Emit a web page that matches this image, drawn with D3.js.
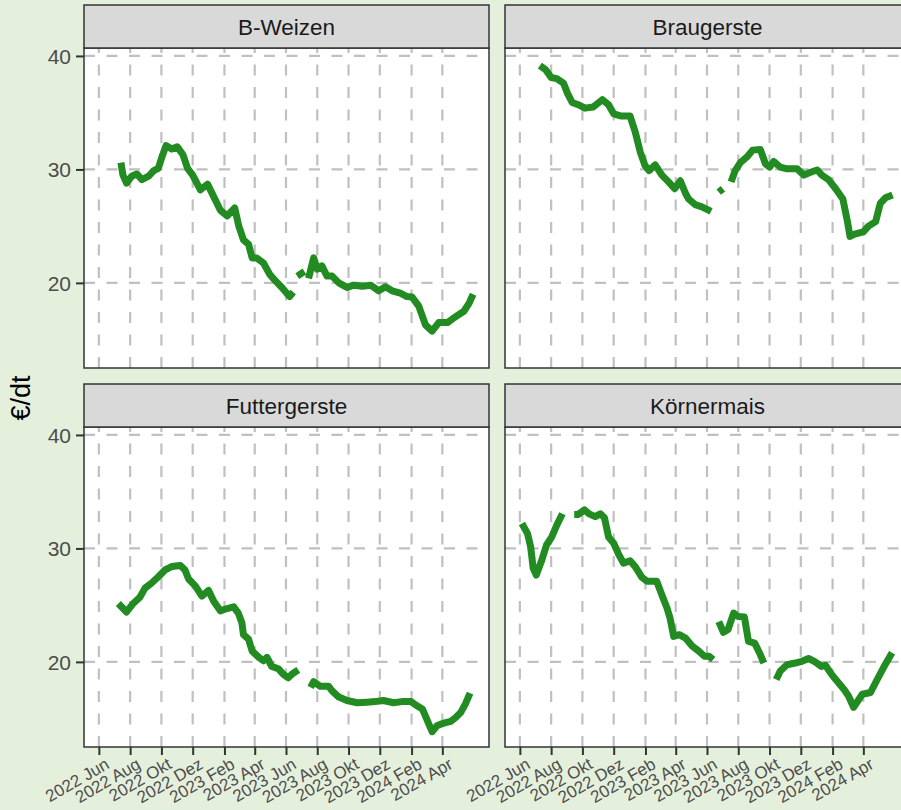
<!DOCTYPE html>
<html><head><meta charset="utf-8">
<script src="https://cdn.jsdelivr.net/npm/d3@7"></script>
<style>body{margin:0;background:#E5F0DC;} svg{display:block;font-family:"Liberation Sans",Arial,sans-serif}</style>
</head><body><svg id="c" width="901" height="810"></svg>
<script>
// ---------- data ----------
const panelNames = ["B-Weizen", "Braugerste", "Futtergerste", "Körnermais"];
const yTicks = [20, 30, 40];
const yDomain = [12.5, 40.7];
const xDomain = ["2022-05-03", "2024-07-01"];
const tickDates = ["2022-06-01","2022-08-01","2022-10-01","2022-12-01","2023-02-01","2023-04-01","2023-06-01","2023-08-01","2023-10-01","2023-12-01","2024-02-01","2024-04-01"];
const tickLabels = ["2022 Jun","2022 Aug","2022 Okt","2022 Dez","2023 Feb","2023 Apr","2023 Jun","2023 Aug","2023 Okt","2023 Dez","2024 Feb","2024 Apr"];

const bWeizen = [["2022-07-14",30.6],["2022-07-18",29.5],["2022-07-25",28.8],["2022-08-04",29.4],["2022-08-14",29.6],["2022-08-24",29.1],["2022-09-06",29.4],["2022-09-16",29.9],["2022-09-25",30.1],["2022-10-02",31.1],["2022-10-10",32.1],["2022-10-21",31.8],["2022-11-01",32.0],["2022-11-12",31.3],["2022-11-21",30.1],["2022-12-01",29.5],["2022-12-16",28.2],["2022-12-30",28.7],["2023-01-11",27.6],["2023-01-24",26.4],["2023-02-06",25.9],["2023-02-21",26.6],["2023-03-01",25.0],["2023-03-10",23.8],["2023-03-20",23.4],["2023-03-27",22.2],["2023-04-05",22.2],["2023-04-18",21.75],["2023-05-01",20.7],["2023-05-11",20.2],["2023-05-24",19.6],["2023-06-08",18.8],["2023-06-15",19.2],null,["2023-06-23",20.6],["2023-07-07",21.0],null,["2023-07-15",20.4],["2023-07-25",22.2],["2023-08-01",21.2],["2023-08-10",21.5],["2023-08-20",20.6],["2023-08-30",20.6],["2023-09-12",20.0],["2023-09-28",19.6],["2023-10-11",19.8],["2023-10-28",19.7],["2023-11-13",19.8],["2023-11-29",19.3],["2023-12-12",19.65],["2023-12-25",19.3],["2024-01-10",19.1],["2024-01-23",18.8],["2024-02-02",18.75],["2024-02-15",17.95],["2024-02-28",16.3],["2024-03-12",15.75],["2024-03-25",16.5],["2024-04-11",16.5],["2024-04-20",16.8],["2024-05-03",17.2],["2024-05-13",17.5],["2024-05-23",18.2],["2024-05-31",19.0]];

const braugerste = [["2022-07-10",39.15],["2022-07-21",38.8],["2022-08-01",38.1],["2022-08-12",38.0],["2022-08-25",37.6],["2022-09-02",36.7],["2022-09-11",35.9],["2022-09-23",35.7],["2022-10-06",35.4],["2022-10-22",35.5],["2022-11-09",36.15],["2022-11-21",35.7],["2022-12-01",34.9],["2022-12-16",34.7],["2023-01-02",34.7],["2023-01-12",33.3],["2023-01-22",31.5],["2023-01-31",30.35],["2023-02-08",29.9],["2023-02-20",30.4],["2023-03-05",29.5],["2023-03-18",28.9],["2023-03-30",28.3],["2023-04-10",29.0],["2023-04-20",27.9],["2023-04-26",27.4],["2023-05-09",26.9],["2023-05-22",26.7],["2023-06-09",26.3],null,["2023-06-24",28.0],["2023-07-02",28.3],null,["2023-07-18",28.9],["2023-07-26",29.9],["2023-08-05",30.6],["2023-08-18",31.1],["2023-08-29",31.7],["2023-09-13",31.75],["2023-09-23",30.5],["2023-10-01",30.2],["2023-10-09",30.7],["2023-10-22",30.2],["2023-11-04",30.05],["2023-11-24",30.05],["2023-12-07",29.5],["2023-12-20",29.75],["2024-01-02",29.95],["2024-01-11",29.5],["2024-01-24",29.1],["2024-02-07",28.3],["2024-02-21",27.4],["2024-03-01",25.4],["2024-03-06",24.1],["2024-03-15",24.3],["2024-04-01",24.5],["2024-04-11",25.0],["2024-04-25",25.4],["2024-05-04",27.0],["2024-05-14",27.5],["2024-05-28",27.75]];

const futtergerste = [["2022-07-09",25.15],["2022-07-25",24.4],["2022-08-07",25.15],["2022-08-20",25.7],["2022-08-30",26.5],["2022-09-12",26.95],["2022-09-25",27.5],["2022-10-08",28.1],["2022-10-21",28.4],["2022-11-07",28.5],["2022-11-16",28.1],["2022-11-23",27.3],["2022-12-06",26.7],["2022-12-19",25.8],["2023-01-01",26.3],["2023-01-11",25.35],["2023-01-24",24.5],["2023-02-06",24.7],["2023-02-19",24.85],["2023-02-28",24.3],["2023-03-07",23.45],["2023-03-10",22.4],["2023-03-20",22.0],["2023-03-27",20.95],["2023-04-09",20.4],["2023-04-18",20.1],["2023-04-25",20.4],["2023-05-04",19.6],["2023-05-17",19.4],["2023-05-27",18.9],["2023-06-05",18.6],["2023-06-15",19.0],["2023-06-25",19.3],null,["2023-07-19",17.75],["2023-07-25",18.25],["2023-08-07",17.85],["2023-08-23",17.85],["2023-08-30",17.45],["2023-09-12",16.9],["2023-09-28",16.6],["2023-10-18",16.4],["2023-11-06",16.45],["2023-11-22",16.5],["2023-12-08",16.6],["2023-12-28",16.4],["2024-01-13",16.5],["2024-01-31",16.5],["2024-02-09",16.2],["2024-02-22",15.85],["2024-03-03",14.8],["2024-03-12",13.85],["2024-03-22",14.4],["2024-04-04",14.6],["2024-04-17",14.75],["2024-04-27",15.1],["2024-05-07",15.55],["2024-05-16",16.3],["2024-05-25",17.25]];

const koernermais = [["2022-06-05",32.2],["2022-06-16",31.3],["2022-06-22",30.15],["2022-06-27",28.25],["2022-07-03",27.65],["2022-07-14",29.0],["2022-07-23",30.3],["2022-08-02",31.0],["2022-08-12",32.05],["2022-08-23",33.05],null,["2022-09-15",33.0],["2022-09-23",33.0],["2022-10-05",33.4],["2022-10-14",33.05],["2022-10-26",32.8],["2022-11-05",33.05],["2022-11-13",32.7],["2022-11-21",31.0],["2022-12-01",30.45],["2022-12-10",29.55],["2022-12-20",28.7],["2023-01-02",28.9],["2023-01-12",28.4],["2023-01-25",27.45],["2023-02-04",27.1],["2023-02-23",27.1],["2023-03-05",25.9],["2023-03-15",24.75],["2023-03-21",23.85],["2023-03-28",22.25],["2023-04-08",22.4],["2023-04-20",22.1],["2023-05-03",21.4],["2023-05-16",20.95],["2023-05-27",20.5],["2023-06-05",20.5],["2023-06-13",20.2],null,["2023-06-24",23.55],["2023-07-03",22.6],["2023-07-12",22.85],["2023-07-23",24.3],["2023-08-01",24.0],["2023-08-13",23.95],["2023-08-21",21.8],["2023-09-02",21.65],["2023-09-13",20.65],["2023-09-20",19.9],null,["2023-10-14",18.45],["2023-10-22",19.2],["2023-11-04",19.75],["2023-11-20",19.9],["2023-12-03",20.05],["2023-12-16",20.3],["2023-12-29",20.0],["2024-01-10",19.6],["2024-01-18",19.7],["2024-01-30",18.9],["2024-02-10",18.3],["2024-02-23",17.6],["2024-03-03",17.0],["2024-03-13",16.0],["2024-03-30",17.15],["2024-04-15",17.3],["2024-04-28",18.45],["2024-05-14",19.8],["2024-05-27",20.8]];

const seriesList = [bWeizen, braugerste, futtergerste, koernermais];

// ---------- drawing ----------
const W = 901, H = 810;
const svg = d3.select('#c');
svg.append('rect').attr('width', W).attr('height', H).attr('fill', '#E5F0DC');

const pw = 405, ph = 320, sh = 43;
const cols = [84, 505], rows = [5, 384];
const parse = d3.timeParse('%Y-%m-%d');
const x = d3.scaleTime().domain(xDomain.map(parse)).range([0, pw]);
const y = d3.scaleLinear().domain(yDomain).range([ph, 0]);
const tDates = tickDates.map(parse);

const line = d3.line()
  .defined(d => d !== null)
  .x(d => x(parse(d[0])))
  .y(d => y(d[1]))
  .curve(d3.curveLinear);

const defs = svg.append('defs');
defs.append('clipPath').attr('id', 'clip').append('rect').attr('width', pw).attr('height', ph);

panelNames.forEach((name, i) => {
  const c = i % 2, r = Math.floor(i / 2);
  const gx = cols[c], st = rows[r], pt = st + sh;
  const g = svg.append('g').attr('transform', `translate(${gx},${pt})`);
  g.append('rect').attr('width', pw).attr('height', ph).attr('fill', '#fff');

  // grid
  g.selectAll('line.vg').data(tDates).join('line')
    .attr('x1', d => x(d)).attr('x2', d => x(d))
    .attr('y1', ph).attr('y2', 0)
    .attr('stroke', '#C0C0C0').attr('stroke-width', 2.2)
    .attr('stroke-dasharray', '11,11.5');
  g.selectAll('line.hg').data(yTicks).join('line')
    .attr('x1', 0).attr('x2', pw)
    .attr('y1', d => y(d)).attr('y2', d => y(d))
    .attr('stroke', '#C0C0C0').attr('stroke-width', 2.2)
    .attr('stroke-dasharray', '11,11.5');

  // series
  g.append('g').attr('clip-path', 'url(#clip)').append('path')
    .datum(seriesList[i])
    .attr('d', line)
    .attr('fill', 'none')
    .attr('stroke', '#228B22')
    .attr('stroke-width', 7)
    .attr('stroke-linejoin', 'round')
    .attr('stroke-linecap', 'butt');

  // border
  g.append('rect').attr('width', pw).attr('height', ph)
    .attr('fill', 'none').attr('stroke', '#333').attr('stroke-width', 1.5);

  // strip
  svg.append('rect').attr('x', gx).attr('y', st).attr('width', pw).attr('height', sh)
    .attr('fill', '#D9D9D9').attr('stroke', '#333').attr('stroke-width', 1.5);
  svg.append('text').attr('x', gx + pw / 2).attr('y', st + sh / 2 + 1)
    .attr('text-anchor', 'middle').attr('dominant-baseline', 'central')
    .attr('font-size', 22.5).attr('fill', '#1A1A1A').text(name);

  // y axis
  if (c === 0) {
    const ya = g.append('g').call(d3.axisLeft(y).tickValues(yTicks).tickSize(8).tickPadding(5));
    ya.select('.domain').remove();
    ya.selectAll('line').attr('stroke', '#333').attr('stroke-width', 2);
    ya.selectAll('text').attr('font-size', 21).attr('fill', '#4D4D4D')
      .attr('font-family', '"Liberation Sans",Arial,sans-serif').attr('dy', '0.36em');
  }
  // x axis
  if (r === 1) {
    const xa = g.append('g').attr('transform', `translate(0,${ph})`)
      .call(d3.axisBottom(x).tickValues(tDates).tickSize(8).tickFormat((d, k) => tickLabels[k]));
    xa.select('.domain').remove();
    xa.selectAll('line').attr('stroke', '#333').attr('stroke-width', 2);
    xa.selectAll('text')
      .attr('x', 0).attr('y', 0).attr('dy', '0.71em')
      .attr('text-anchor', 'end')
      .attr('transform', 'translate(5,10) rotate(-30)')
      .attr('font-size', 17).attr('fill', '#4D4D4D')
      .attr('font-family', '"Liberation Sans",Arial,sans-serif');
  }
});

// y title
svg.append('text')
  .attr('transform', 'translate(21,398) rotate(-90)')
  .attr('text-anchor', 'middle').attr('dominant-baseline', 'central')
  .attr('font-size', 27).attr('fill', '#000').text('€/dt');
</script>
</body></html>
